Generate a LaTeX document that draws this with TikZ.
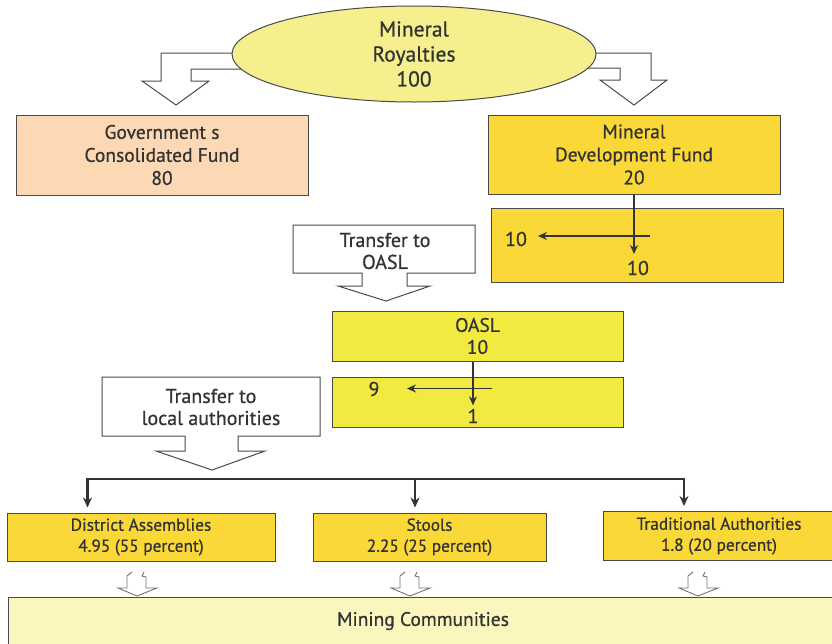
\documentclass[tikz,border=0pt]{standalone}
\usepackage{fontspec}
\setmainfont{PT Sans}[FakeBold=0.7]
\usetikzlibrary{arrows.meta,positioning,shapes.geometric,backgrounds}
\definecolor{royal}{HTML}{F5EF8E}
\definecolor{peach}{HTML}{FDD8B4}
\definecolor{gold}{HTML}{F9D838}
\definecolor{lemon}{HTML}{F3EA41}
\definecolor{cream}{HTML}{FBF6BE}
\definecolor{edge}{HTML}{4A4A4A}
\definecolor{ink}{HTML}{333333}
\tikzset{
  fund/.style={draw=edge,line width=1pt,align=center,inner sep=0pt,
    font=\fontsize{19.5}{23}\selectfont,text=ink},
  share/.style={fund,fill=gold,font=\fontsize{17.3}{21}\selectfont},
  plain/.style={font=\fontsize{20}{22}\selectfont,text=ink,align=center},
  hollow/.style={draw=edge,line width=1pt,fill=white},
  link/.style={-{Stealth[length=9pt,width=8pt]},draw=ink,line width=1.2pt},
  bus/.style={draw=ink,line width=2.8pt,line cap=rect},
  busarrow/.style={draw=ink,line width=2.8pt,-{Stealth[length=10pt,width=9pt]}}
}

\begin{document}
\begin{tikzpicture}[x=1pt,y=-1pt]
  \useasboundingbox (0,0) rectangle (832,643);
  \node[fund,ellipse,fill=royal,minimum width=364pt,minimum height=96pt,
    font=\fontsize{21.5}{25}\selectfont] (roy) at (414,54) {Mineral\\Royalties\\100};
  \begin{scope}[on background layer]
    \draw[hollow] (roy.center |- 0,53) -- (161,53) -- (161,81) -- (142,81) -- (176,105)
      -- (209,81) -- (191,81) -- (191,69) -- (roy.center |- 0,69);
    \draw[hollow] (roy.center |- 0,53) -- (651,53) -- (651,80) -- (667,80) -- (634,105)
      -- (600,80) -- (620,80) -- (620,68) -- (roy.center |- 0,68);
  \end{scope}

  \node[fund,fill=peach,minimum width=292pt,minimum height=80pt] (gov) at (162,155)
    {Government s\\Consolidated Fund\\80};
  \node[fund,fill=gold,minimum width=292pt,minimum height=79pt] (mdf) at (634,154.5)
    {Mineral\\Development Fund\\20};
  \node[fund,fill=gold,minimum width=292pt,minimum height=74pt] (mdfsplit) at (637.5,245) {};
  \node[plain] (tena) at (516,239) {10};
  \node[plain] (tenb) at (638,268) {10};
  \coordinate (tapa) at (650,236);
  \coordinate (tapaend) at (538,236);
  \draw[link] (mdf.south) -- (tapaend -| mdf.south) -- ++(0,18);
  \draw[link] (tapa) -- (tapaend);

  \draw[hollow] (293,225) -- (475,225) -- (475,273) -- (407,273) -- (407,286) -- (430,286)
    -- (386,301) -- (338,286) -- (362,286) -- (362,273) -- (293,273) -- cycle;
  \node[plain] (toasl) at (385,251) {Transfer to\\OASL};

  \node[fund,fill=lemon,minimum width=291pt,minimum height=50pt,
    font=\fontsize{19.5}{22}\selectfont] (oasl) at (477.5,336) {OASL\\10};
  \node[fund,fill=lemon,minimum width=291pt,minimum height=50pt] (oaslsplit) at (477.5,402) {};
  \node[plain] (nine) at (374,389) {9};
  \node[plain] (one) at (473,416) {1};
  \coordinate (tapb) at (492,388.5);
  \coordinate (tapbend) at (407,388.5);
  \draw[link] (one |- oasl.south) -- (one.north);
  \draw[link] (tapb) -- (tapbend);

  \draw[hollow] (102,377) -- (320,377) -- (320,436) -- (238,436) -- (238,451) -- (265,451)
    -- (212,470) -- (156,451) -- (185,451) -- (185,436) -- (102,436) -- cycle;
  \node[plain] (tlocal) at (211,407) {Transfer to\\local authorities};

  \node[share,minimum width=268pt,minimum height=48pt] (da) at (141,537)
    {District Assemblies\\4.95 (55 percent)};
  \node[share,minimum width=233pt,minimum height=48pt] (stools) at (429.5,537)
    {Stools\\2.25 (25 percent)};
  \node[share,minimum width=232pt,minimum height=49pt] (trad) at (719,536)
    {Traditional Authorities\\1.8 (20 percent)};

  \coordinate (busl) at (87.5,479);
  \coordinate (busm) at (415,479);
  \coordinate (busr) at (684,479);
  \draw[bus] (busl) -- (busr);
  \foreach \b/\n in {busl/da,busm/stools,busr/trad}
    \draw[busarrow,shorten >=5pt] (\b) -- (\b |- \n.north);

  \node[fund,fill=cream,minimum width=830pt,minimum height=48pt] (mining) at (423,621)
    {Mining Communities};
  \foreach \x in {137,410,698}
    \draw[hollow,draw=gray!90!black,line width=0.9pt] (\x-5,572) -- (\x-10,576) -- (\x-10,588)
      -- (\x-19,588) -- (\x,596) -- (\x+20,588) -- (\x+9,588) -- (\x+9,577)
      -- (\x+5,576) -- (\x+7,572);
\end{tikzpicture}
\end{document}
